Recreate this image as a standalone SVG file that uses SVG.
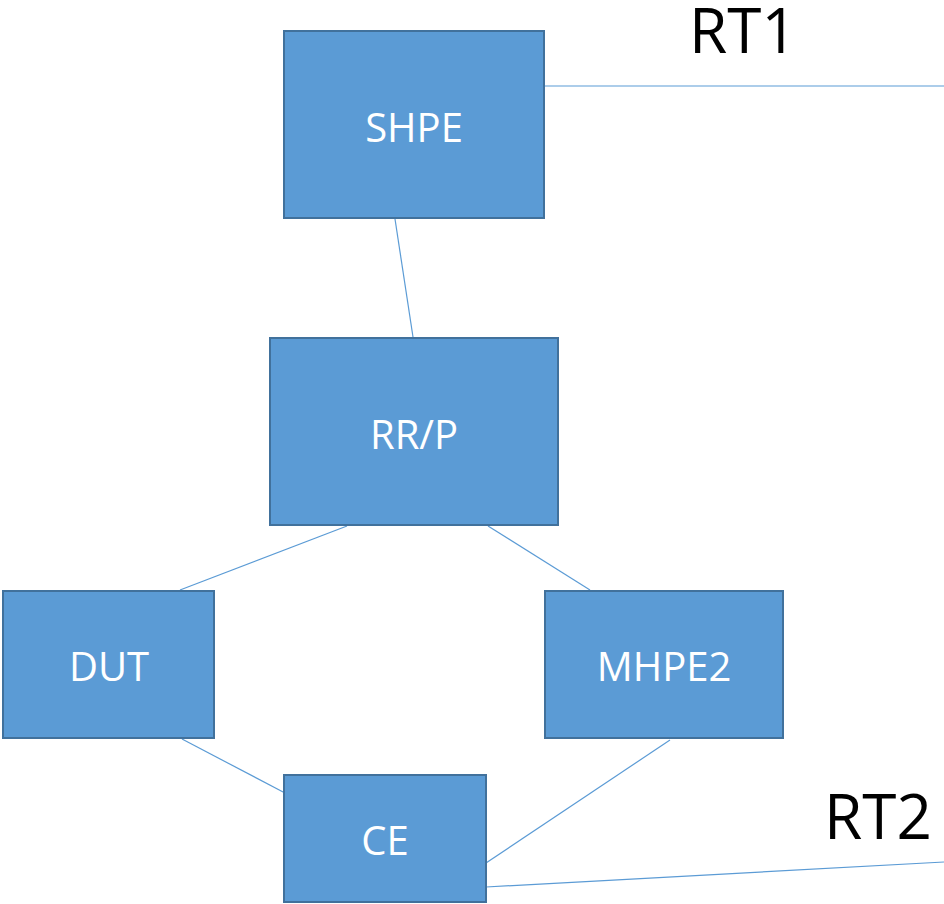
<svg xmlns="http://www.w3.org/2000/svg" width="944" height="904" viewBox="0 0 944 904">
<style>
.box{fill:#5B9BD5;stroke:#41719C;stroke-width:2}
.lbl{fill:#FFFFFF;font-family:"Open Sans","Liberation Sans",sans-serif;font-size:40px;text-anchor:middle}
.big{fill:#000000;font-family:"Open Sans","Liberation Sans",sans-serif;font-size:62px}
.ln{stroke:#5B9BD5;stroke-width:1.2;fill:none}
</style>
<rect width="944" height="904" fill="#FFFFFF"/>
<g id="connectors">
<line class="ln" x1="545" y1="86" x2="944" y2="86"/>
<line class="ln" x1="395" y1="219" x2="413" y2="337"/>
<line class="ln" x1="347" y1="526" x2="180" y2="590"/>
<line class="ln" x1="488" y1="526" x2="590" y2="590"/>
<line class="ln" x1="182" y1="739" x2="285" y2="793"/>
<line class="ln" x1="670" y1="740" x2="486" y2="863"/>
<line class="ln" x1="486" y1="887" x2="944" y2="862"/>
</g>
<g id="SHPE"><rect class="box" x="284" y="31" width="260" height="187"/><text class="lbl" x="414" y="142">SHPE</text></g>
<g id="RRP"><rect class="box" x="270" y="338" width="288" height="187"/><text class="lbl" x="414" y="449">RR/P</text></g>
<g id="DUT"><rect class="box" x="3" y="591" width="211" height="147"/><text class="lbl" x="109" y="681">DUT</text></g>
<g id="MHPE2"><rect class="box" x="545" y="591" width="238" height="147"/><text class="lbl" x="664" y="681">MHPE2</text></g>
<g id="CE"><rect class="box" x="284" y="775" width="202" height="127"/><text class="lbl" x="385" y="855">CE</text></g>
<g id="RT1"><text class="big" x="689" y="53">RT1</text></g>
<g id="RT2"><text class="big" x="824" y="839">RT2</text></g>
</svg>
